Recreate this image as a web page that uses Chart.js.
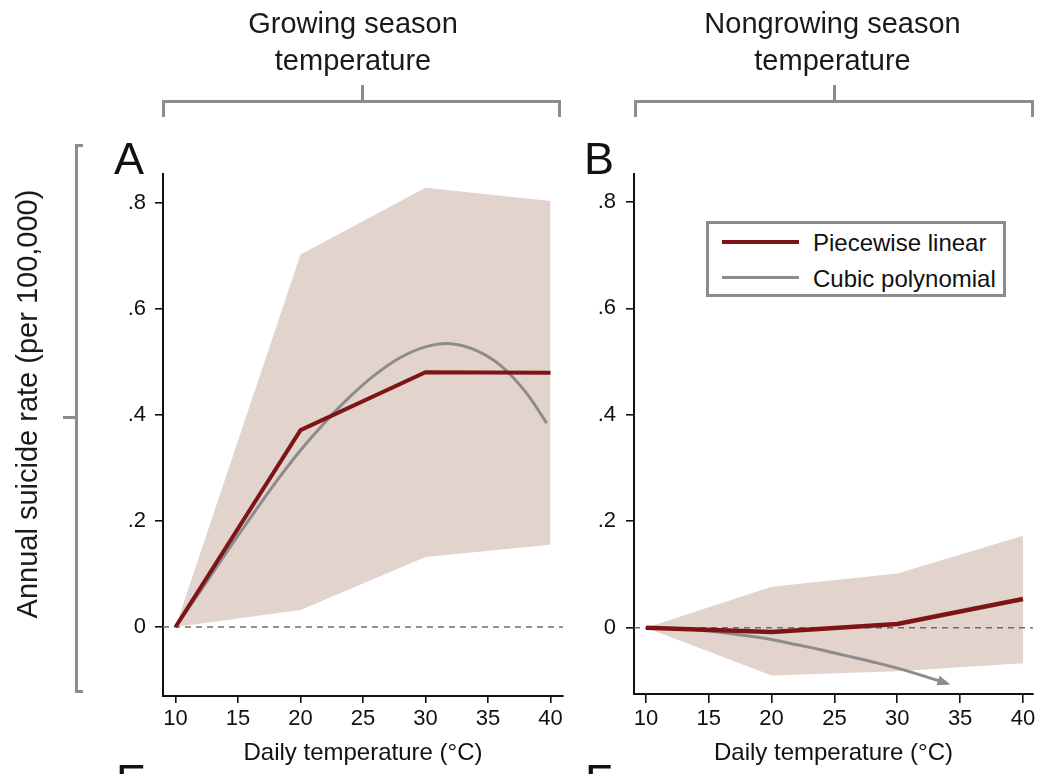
<!DOCTYPE html>
<html>
<head>
<meta charset="utf-8">
<script src="https://cdn.jsdelivr.net/npm/chart.js@4.4.1/dist/chart.umd.min.js"></script>
<style>
  html, body { margin:0; padding:0; background:#fff; }
  body { position:relative; width:1041px; height:774px; overflow:hidden; font-family:"Liberation Sans", Arial, sans-serif; color:#111; }
  canvas { position:absolute; left:0; top:0; }
  .abs { position:absolute; }
  .hdr { position:absolute; width:400px; text-align:center; font-size:29px; line-height:37px; color:#1a1a1a; }
  .brk { position:absolute; border:3px solid #8c8c8c; border-bottom:none; box-sizing:border-box; }
  .bar { position:absolute; background:#8c8c8c; }
  .panel { position:absolute; font-size:45px; line-height:45px; color:#111; }
  #ytitle { position:absolute; width:600px; height:30px; line-height:30px; text-align:center; font-size:29px; color:#1a1a1a;
            left:-273.5px; top:389px; transform:rotate(-90deg); transform-origin:300px 15px; white-space:nowrap; }
  #legend { position:absolute; left:706px; top:221px; width:300px; height:76px; border:3px solid #8c8c8c; box-sizing:border-box; background:#fff; }
  .lgsample { position:absolute; height:3px; }
  .lgtext { position:absolute; font-size:24px; line-height:24px; color:#111; white-space:nowrap; }
</style>
</head>
<body>
<canvas id="chartA" width="1100" height="774" style="width:1100px;height:774px"></canvas>
<canvas id="chartB" width="1100" height="774" style="width:1100px;height:774px"></canvas>

<div class="hdr" style="left:153px; top:4.5px;">Growing season<br>temperature</div>
<div class="hdr" style="left:632.5px; top:4.5px;">Nongrowing season<br>temperature</div>

<div class="brk" style="left:162px; top:100px; width:399px; height:17px;"></div>
<div class="bar" style="left:361px; top:85px; width:3px; height:16px;"></div>
<div class="brk" style="left:634px; top:100px; width:400px; height:17px;"></div>
<div class="bar" style="left:833px; top:85px; width:3px; height:16px;"></div>

<div class="abs" style="left:75px; top:144px; width:8px; height:549px; border:3px solid #8c8c8c; border-right:none; box-sizing:border-box;"></div>
<div class="bar" style="left:63px; top:416px; width:13px; height:3px;"></div>

<div id="ytitle">Annual suicide rate (per 100,000)</div>

<div class="panel" style="left:114px; top:136px;">A</div>
<div class="panel" style="left:584px; top:136px;">B</div>
<div class="panel" style="left:116px; top:758px;">E</div>
<div class="panel" style="left:585px; top:758px;">F</div>

<div id="legend"></div>

<script>
// ---------------- data ----------------
const seriesNames = ['Piecewise linear', 'Cubic polynomial'];
const tempKnots = [10, 20, 30, 40];

// Panel A: growing season temperature
const piecewiseA = [0, 0.371, 0.480, 0.479];
const ciUpperA   = [0, 0.702, 0.828, 0.803];
const ciLowerA   = [0, 0.032, 0.132, 0.155];
const cubicTempA = [10, 12, 14, 16, 18, 20, 22, 24, 26, 28, 30, 32, 34, 36, 38, 39.7];
const cubicA     = [0, 0.068, 0.138, 0.206, 0.272, 0.333, 0.387, 0.435, 0.476, 0.508, 0.528, 0.534, 0.522, 0.493, 0.443, 0.384];

// Panel B: nongrowing season temperature
const piecewiseB = [0, -0.008, 0.007, 0.054];
const ciUpperB   = [0, 0.077, 0.102, 0.173];
const ciLowerB   = [0, -0.090, -0.082, -0.067];
const cubicTempB = [10, 12, 14, 16, 18, 20, 22, 24, 26, 28, 30, 32, 34];
const cubicB     = [0, -0.001, -0.004, -0.009, -0.015, -0.022, -0.032, -0.042, -0.053, -0.064, -0.076, -0.090, -0.105];

// axes
const xTicks = [10, 15, 20, 25, 30, 35, 40];
const yTicks = [0, 0.2, 0.4, 0.6, 0.8];
const yTickLabels = ['0', '.2', '.4', '.6', '.8'];
const xTitle = 'Daily temperature (°C)';

// ---------------- styling ----------------
const RED = '#7d1517';
const GRAY = '#8c8c8c';
const BAND = '#e2d4cc';
const AXIS = '#111111';
const FAMILY = '"Liberation Sans", Arial, sans-serif';
Chart.defaults.font.family = FAMILY;

function pts(xs, ys) { return xs.map((x, i) => ({ x: x, y: ys[i] })); }

const arrowPlugin = {
  id: 'arrowEnd',
  afterDatasetsDraw(chart, args, opts) {
    if (!opts || !opts.enabled) return;
    const meta = chart.getDatasetMeta(1);
    const p = meta.data, n = p.length;
    const a = p[n - 2], b = p[n - 1];
    const ang = Math.atan2(b.y - a.y, b.x - a.x);
    const ctx = chart.ctx;
    ctx.save();
    ctx.fillStyle = GRAY;
    ctx.translate(b.x, b.y);
    ctx.rotate(ang);
    ctx.beginPath();
    ctx.moveTo(3, 0);
    ctx.lineTo(-10, -5);
    ctx.lineTo(-10, 5);
    ctx.closePath();
    ctx.fill();
    ctx.restore();
  }
};

function buildChart(id, p) {
  return new Chart(document.getElementById(id), {
    type: 'line',
    data: {
      datasets: [
        { label: seriesNames[0], data: pts(tempKnots, p.pw), borderColor: RED, borderWidth: p.redW,
          pointRadius: 0, fill: false, tension: 0, order: 0 },
        { label: seriesNames[1], data: pts(p.cx, p.cy), borderColor: GRAY, borderWidth: 3,
          pointRadius: 0, fill: false, tension: 0.4, order: 1 },
        { label: 'zero', data: [{ x: p.xmin, y: 0 }, { x: p.xmax, y: 0 }], borderColor: '#6e6e6e', borderWidth: 1.6,
          borderDash: [6, 5], pointRadius: 0, fill: false, order: 2 },
        { label: 'ci upper', data: pts(tempKnots, p.up), borderWidth: 0, borderColor: 'rgba(0,0,0,0)',
          backgroundColor: BAND, pointRadius: 0, fill: '+1', order: 3 },
        { label: 'ci lower', data: pts(tempKnots, p.lo), borderWidth: 0, borderColor: 'rgba(0,0,0,0)',
          pointRadius: 0, fill: false, order: 4 }
      ]
    },
    options: {
      responsive: false, animation: false, devicePixelRatio: 1,
      layout: { padding: { left: p.padL, top: 174, right: p.padR, bottom: 0 } },
      plugins: { legend: { display: false }, tooltip: { enabled: false }, arrowEnd: { enabled: !!p.arrow } },
      scales: {
        x: {
          type: 'linear', min: p.xmin, max: p.xmax,
          afterBuildTicks: s => { s.ticks = xTicks.map(v => ({ value: v })); },
          afterFit: s => { s.height = p.hx; },
          ticks: { font: { size: 22 }, color: AXIS, padding: 3, maxRotation: 0, autoSkip: false },
          grid: { display: true, drawOnChartArea: false, drawTicks: true, tickLength: p.xtl, color: AXIS, lineWidth: 1.6 },
          border: { display: true, color: AXIS, width: 2 },
          title: { display: true, text: xTitle, font: { size: 24 }, color: AXIS, padding: { top: 0, bottom: 6 } }
        },
        y: {
          type: 'linear', min: p.ymin, max: p.ymax,
          afterBuildTicks: s => { s.ticks = yTicks.map(v => ({ value: v })); },
          afterFit: s => { s.width = 60; },
          ticks: { font: { size: 22 }, color: AXIS, padding: p.ypad, callback: (v, i) => yTickLabels[i] },
          grid: { display: true, drawOnChartArea: false, drawTicks: true, tickLength: 8, color: AXIS, lineWidth: 1.6 },
          border: { display: true, color: AXIS, width: 2 }
        }
      }
    },
    plugins: [arrowPlugin]
  });
}

const chartA = buildChart('chartA', {
  pw: piecewiseA, up: ciUpperA, lo: ciLowerA, cx: cubicTempA, cy: cubicA,
  xmin: 9, xmax: 41, ymin: -0.130, ymax: 0.8537,
  padL: 103, padR: 537, hx: 78, xtl: 7, ypad: 9, redW: 4, arrow: false
});
const chartB = buildChart('chartB', {
  pw: piecewiseB, up: ciUpperB, lo: ciLowerB, cx: cubicTempB, cy: cubicB,
  xmin: 9.05, xmax: 40.8, ymin: -0.1246, ymax: 0.8526,
  padL: 574, padR: 67, hx: 80, xtl: 9, ypad: 10, redW: 4.5, arrow: true
});

// legend built from the chart's own series
(function () {
  const lg = document.getElementById('legend');
  const ds = chartB.data.datasets.slice(0, 2);
  const rows = [{ lineTop: 16, textTop: 7 }, { lineTop: 52, textTop: 43 }];
  ds.forEach((d, i) => {
    const s = document.createElement('div');
    s.className = 'lgsample';
    s.style.left = '13px'; s.style.width = '77px';
    s.style.top = rows[i].lineTop + 'px';
    s.style.height = (i === 0 ? 4 : 3) + 'px';
    s.style.background = d.borderColor;
    lg.appendChild(s);
    const t = document.createElement('div');
    t.className = 'lgtext';
    t.style.left = '104px';
    t.style.top = rows[i].textTop + 'px';
    t.textContent = d.label;
    lg.appendChild(t);
  });
})();
</script>
</body>
</html>
